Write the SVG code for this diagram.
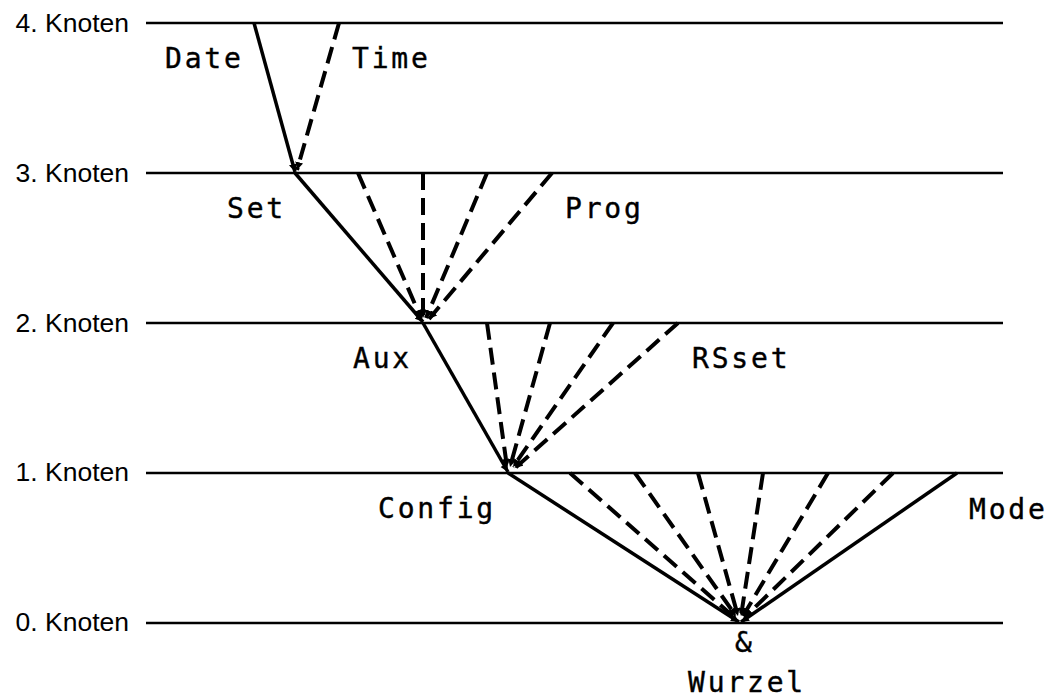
<svg xmlns="http://www.w3.org/2000/svg" width="1059" height="698" viewBox="0 0 1059 698">
<style>
.bg{fill:#fff}
.lvl{stroke:#000;stroke-width:2.5;fill:none}
.lvltxt{font-family:"Liberation Sans",Arial,sans-serif;font-size:26.5px;fill:#000;text-anchor:end}
.lbl{font-family:"DejaVu Sans Mono","Liberation Mono",monospace;font-size:28px;letter-spacing:2.8px;fill:#000;stroke:#000;stroke-width:0.4}
.solid{stroke:#000;stroke-width:3.5;fill:none;marker-end:url(#ah)}
.dash{stroke:#000;stroke-width:4;fill:none;stroke-dasharray:17 8;marker-end:url(#ah)}
</style>
<defs>
<marker id="ah" markerUnits="userSpaceOnUse" markerWidth="9" markerHeight="9" refX="8" refY="4" orient="auto" viewBox="0 0 9 8">
<path d="M0,0 L8,4 L0,8 z" fill="#000" stroke="none"/>
</marker>
</defs>
<rect class="bg" x="0" y="0" width="1059" height="698"/>
<g id="levels">
<line class="lvl" x1="146" y1="23" x2="1003" y2="23"/>
<line class="lvl" x1="146" y1="173" x2="1003" y2="173"/>
<line class="lvl" x1="146" y1="323" x2="1003" y2="323"/>
<line class="lvl" x1="146" y1="473" x2="1003" y2="473"/>
<line class="lvl" x1="146" y1="623" x2="1003" y2="623"/>
<text class="lvltxt" x="129" y="32">4. Knoten</text>
<text class="lvltxt" x="129" y="182">3. Knoten</text>
<text class="lvltxt" x="129" y="332">2. Knoten</text>
<text class="lvltxt" x="129" y="481">1. Knoten</text>
<text class="lvltxt" x="129" y="631">0. Knoten</text>
</g>
<g id="connectors">
<line class="solid" x1="254" y1="23" x2="295" y2="172"/>
<line class="dash" x1="339" y1="23" x2="297" y2="170"/>
<line class="solid" x1="295" y1="173" x2="423" y2="322"/>
<line class="dash" x1="358" y1="173" x2="421" y2="318"/>
<line class="dash" x1="423" y1="173" x2="423" y2="318"/>
<line class="dash" x1="487" y1="173" x2="426" y2="318"/>
<line class="dash" x1="552" y1="173" x2="429" y2="319"/>
<line class="solid" x1="423" y1="323" x2="508" y2="472"/>
<line class="dash" x1="487" y1="323" x2="507" y2="467"/>
<line class="dash" x1="550" y1="323" x2="510" y2="467"/>
<line class="dash" x1="613" y1="323" x2="513" y2="467"/>
<line class="dash" x1="678" y1="323" x2="515" y2="468"/>
<line class="solid" x1="508" y1="473" x2="739" y2="622"/>
<line class="dash" x1="570" y1="473" x2="734" y2="617"/>
<line class="dash" x1="635" y1="473" x2="736" y2="616"/>
<line class="dash" x1="698" y1="473" x2="738" y2="616"/>
<line class="dash" x1="763" y1="473" x2="741" y2="616"/>
<line class="dash" x1="828" y1="473" x2="743" y2="616"/>
<line class="dash" x1="893" y1="473" x2="745" y2="617"/>
<line class="solid" x1="957" y1="473" x2="741" y2="622"/>
</g>
<g id="node-date"><text class="lbl" x="165" y="68">Date</text></g>
<g id="node-time"><text class="lbl" x="352" y="68">Time</text></g>
<g id="node-set"><text class="lbl" x="227" y="218">Set</text></g>
<g id="node-prog"><text class="lbl" x="565" y="218">Prog</text></g>
<g id="node-aux"><text class="lbl" x="353" y="368">Aux</text></g>
<g id="node-rsset"><text class="lbl" x="692" y="368">RSset</text></g>
<g id="node-config"><text class="lbl" x="378" y="518">Config</text></g>
<g id="node-mode"><text class="lbl" x="969" y="519">Mode</text></g>
<g id="node-wurzel">
<text class="lbl" x="735" y="652">&amp;</text>
<text class="lbl" x="688" y="692">Wurzel</text>
</g>
</svg>
